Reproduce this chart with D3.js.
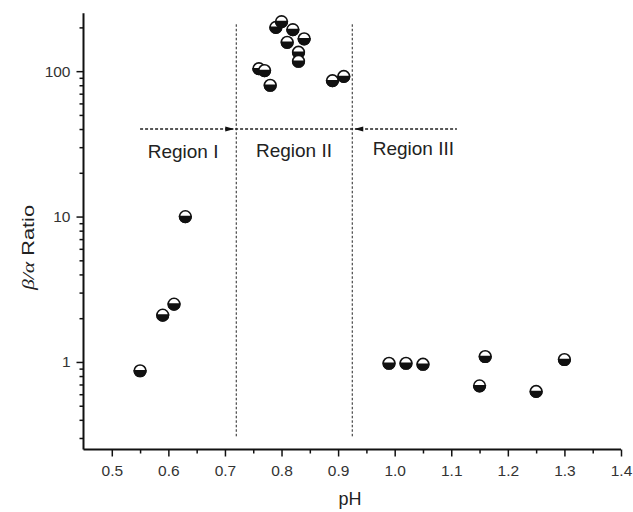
<!DOCTYPE html>
<html>
<head>
<meta charset="utf-8">
<script src="https://cdn.jsdelivr.net/npm/d3@7"></script>
<style>
  body { margin: 0; background: #fff; }
  svg { display: block; font-family: "Liberation Sans", Arial, sans-serif; }
  .axis path, .axis line { stroke: #111; }
  .axis text { fill: #333; font-size: 15.5px; font-family: "Liberation Sans", Arial, sans-serif; }
</style>
</head>
<body>
<div id="chart"></div>
<script>
// measured points, pH vs beta/alpha ratio
var region1_pH = [0.55, 0.59, 0.61, 0.63];
var region1_ratio = [0.87, 2.1, 2.5, 10];
var region2_pH = [0.76, 0.77, 0.78, 0.79, 0.80, 0.82, 0.81, 0.84, 0.83, 0.83, 0.89, 0.91];
var region2_ratio = [104, 101, 80, 200, 219, 193, 158, 167, 135, 117, 86, 92];
var region3_pH = [0.99, 1.02, 1.05, 1.15, 1.16, 1.25, 1.30];
var region3_ratio = [0.98, 0.98, 0.965, 0.685, 1.09, 0.627, 1.04];

var xTicks = [0.5, 0.6, 0.7, 0.8, 0.9, 1.0, 1.1, 1.2, 1.3, 1.4];
var xMinor = [0.55, 0.65, 0.75, 0.85, 0.95, 1.05, 1.15, 1.25, 1.35];
var yTicks = [1, 10, 100];
var yMinor = [0.3, 0.4, 0.5, 0.6, 0.7, 0.8, 0.9, 2, 3, 4, 5, 6, 7, 8, 9, 20, 30, 40, 50, 60, 70, 80, 90, 200];

// region boundaries and arrows
var boundaries = [0.72, 0.925];
var boundaryRange = [0.3, 210];
var arrowLevel = 40;
var arrowFrom = [0.55, 1.11];
var regionLabels = ["Region I", "Region II", "Region III"];
var regionLabelX = [0.626, 0.822, 1.033];
var regionLabelY = [25.2, 25.8, 26.5];

var width = 633, height = 512;

var svg = d3.select("#chart").append("svg")
    .attr("width", width)
    .attr("height", height);

var x = d3.scaleLinear().domain([0.45, 1.4]).range([83.5, 621]);
var y = d3.scaleLog().domain([0.25, 250]).range([449.5, 13.3]);

// dashed region lines
svg.selectAll(".vline")
    .data(boundaries)
    .enter().append("line")
    .attr("class", "vline")
    .attr("x1", function(d) { return x(d); })
    .attr("x2", function(d) { return x(d); })
    .attr("y1", y(boundaryRange[1]))
    .attr("y2", y(boundaryRange[0]))
    .attr("stroke", "#222")
    .attr("stroke-width", 1)
    .attr("stroke-dasharray", "2.5,2");

svg.append("line")
    .attr("x1", x(arrowFrom[0]))
    .attr("x2", x(arrowFrom[1]))
    .attr("y1", y(arrowLevel))
    .attr("y2", y(arrowLevel))
    .attr("stroke", "#222")
    .attr("stroke-width", 1.3)
    .attr("stroke-dasharray", "3,2");

// arrow heads, left one points right, right one points left
var ay = y(arrowLevel);
var tipL = x(boundaries[0]) - 2, tipR = x(boundaries[1]) + 2;
svg.append("path")
    .attr("d", "M" + tipL + "," + ay + "L" + (tipL - 9) + "," + (ay - 2.5) + "L" + (tipL - 9) + "," + (ay + 2.5) + "Z")
    .attr("fill", "#111");
svg.append("path")
    .attr("d", "M" + tipR + "," + ay + "L" + (tipR + 9) + "," + (ay - 2.5) + "L" + (tipR + 9) + "," + (ay + 2.5) + "Z")
    .attr("fill", "#111");

svg.selectAll(".rlabel")
    .data(regionLabels)
    .enter().append("text")
    .attr("class", "rlabel")
    .attr("x", function(d, i) { return x(regionLabelX[i]); })
    .attr("y", function(d, i) { return y(regionLabelY[i]); })
    .attr("text-anchor", "middle")
    .attr("font-size", "19px")
    .attr("fill", "#222")
    .text(function(d) { return d; });

// axes
var xAxis = svg.append("g").attr("class", "axis")
    .attr("transform", "translate(0," + 449.5 + ")")
    .call(d3.axisBottom(x).tickValues(xTicks).tickSize(7).tickPadding(8)
        .tickFormat(d3.format(".1f")));
svg.append("g").attr("class", "axis")
    .attr("transform", "translate(0," + 449.5 + ")")
    .call(d3.axisBottom(x).tickValues(xMinor).tickSize(4).tickFormat(""))
    .select(".domain").remove();

var yAxis = svg.append("g").attr("class", "axis")
    .attr("transform", "translate(" + 83.5 + ",0)")
    .call(d3.axisLeft(y).tickValues(yTicks).tickSize(7).tickPadding(6)
        .tickFormat(d3.format("d")));
svg.append("g").attr("class", "axis")
    .attr("transform", "translate(" + 83.5 + ",0)")
    .call(d3.axisLeft(y).tickValues(yMinor).tickSize(4).tickFormat(""))
    .select(".domain").remove();

svg.selectAll(".axis .domain").attr("stroke-width", 2);
xAxis.select(".domain").attr("d", "M83.5,0H621");
yAxis.select(".domain").attr("d", "M0,13.3V449.5");
svg.selectAll(".axis .tick line").attr("stroke-width", 1.5);

// axis titles
svg.append("text")
    .attr("x", 350)
    .attr("y", 505)
    .attr("text-anchor", "middle")
    .attr("font-size", "18px")
    .attr("fill", "#222")
    .text("pH");

var ylab = svg.append("text")
    .attr("transform", "translate(34,247.5) rotate(-90)")
    .attr("text-anchor", "middle")
    .attr("font-size", "17px")
    .attr("fill", "#222")
    .attr("textLength", 85)
    .attr("lengthAdjust", "spacingAndGlyphs");
ylab.append("tspan")
    .attr("font-family", "'Liberation Serif', 'Times New Roman', serif")
    .attr("font-style", "italic")
    .text("\u03b2/\u03b1");
ylab.append("tspan").text(" Ratio");

// half filled markers
var points = [];
[[region1_pH, region1_ratio], [region2_pH, region2_ratio], [region3_pH, region3_ratio]]
    .forEach(function(s) {
        s[0].forEach(function(p, i) { points.push({ pH: p, ratio: s[1][i] }); });
    });

var r = 5.8;
var marks = svg.selectAll(".pt")
    .data(points)
    .enter().append("g")
    .attr("class", "pt")
    .attr("transform", function(d) { return "translate(" + x(d.pH) + "," + y(d.ratio) + ")"; });
marks.append("circle")
    .attr("r", r)
    .attr("fill", "#fff")
    .attr("stroke", "#111")
    .attr("stroke-width", 1.6);
marks.append("path")
    .attr("d", "M" + (-r) + ",0A" + r + "," + r + " 0 0,0 " + r + ",0Z")
    .attr("fill", "#111")
    .attr("stroke", "#111")
    .attr("stroke-width", 1.6);
</script>
</body>
</html>
